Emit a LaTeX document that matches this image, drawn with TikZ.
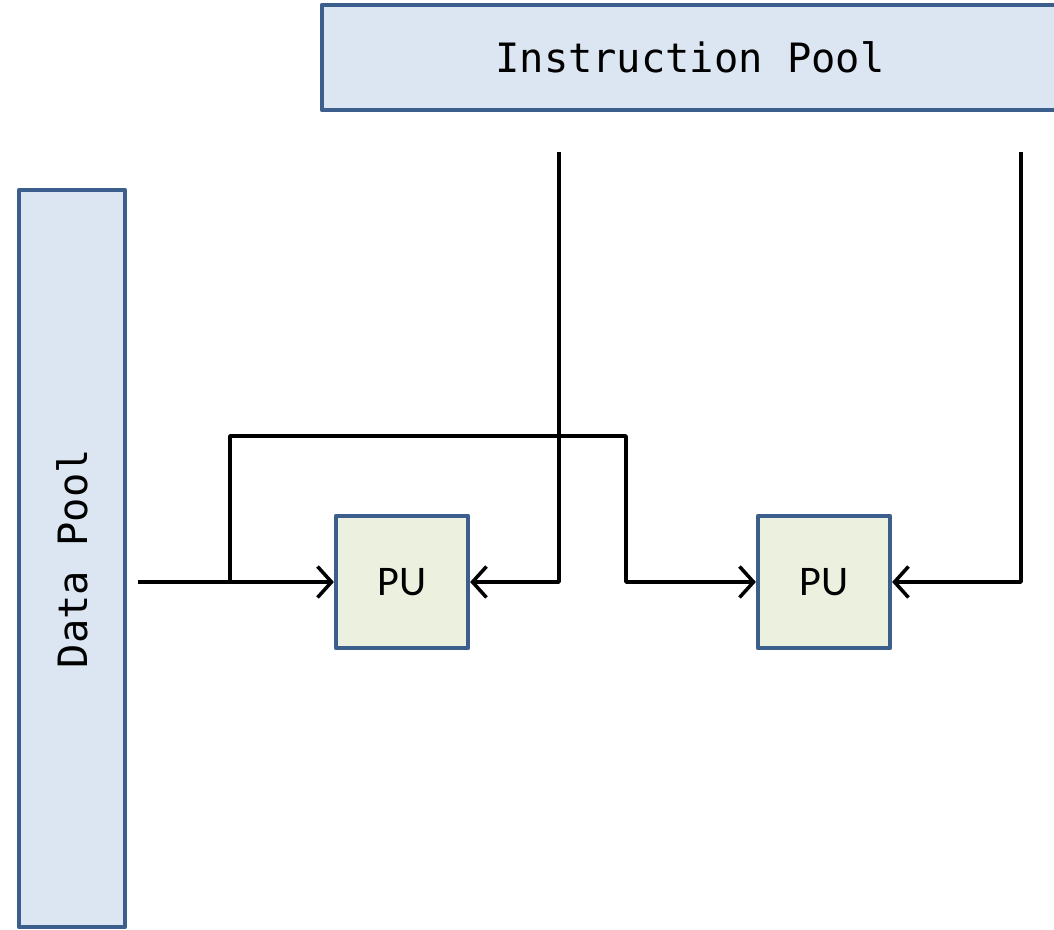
\documentclass[tikz,border=0pt]{standalone}
\usepackage{fontspec}
\setmonofont{DejaVu Sans Mono}
\newfontfamily\pufont{Carlito}
\usetikzlibrary{arrows.meta}
\definecolor{boxline}{HTML}{3B5E8C}
\definecolor{poolfill}{HTML}{DCE6F2}
\definecolor{pufill}{HTML}{EBF1DE}
\tikzset{
 pool/.style={draw=boxline, line width=1.2pt, fill=poolfill, inner sep=0pt,
   font=\ttfamily\fontsize{11.5}{14}\selectfont},
 punit/.style={draw=boxline, line width=1.2pt, fill=pufill, inner sep=0pt,
   minimum width=1.32cm, minimum height=1.32cm, font=\pufont\fontsize{12}{14}\selectfont},
}
\begin{document}
\begin{tikzpicture}[>={Straight Barb[length=1.4mm,width=3.1mm]}, line width=1pt, line join=round]
 \useasboundingbox (0,0) rectangle (10.54,9.29);
 % pools
 \node[pool, minimum width=7.36cm, minimum height=1.05cm] (ipool) at (6.90,8.715) {Instruction Pool};
 \node[pool, rotate=90, minimum width=7.37cm, minimum height=1.06cm] (dpool) at (0.72,3.705) {Data Pool};
 % processing units
 \node[punit] (pu1) at (4.02,3.47) {PU};
 \node[punit] (pu2) at (8.24,3.47) {PU};
 % free ends of the lines
 \coordinate (din) at (1.38,3.47);
 \coordinate (split) at (2.30,3.47);
 \coordinate (hop) at (6.26,4.93);
 \coordinate (ins1) at (5.59,7.77);
 \coordinate (ins2) at (10.21,7.77);
 % data
 \draw[->] (din) -- (pu1);
 \draw[->] (split) |- (hop) |- (pu2);
 % instructions
 \draw[->] (ins1) |- (pu1);
 \draw[->] (ins2) |- (pu2);
\end{tikzpicture}
\end{document}
